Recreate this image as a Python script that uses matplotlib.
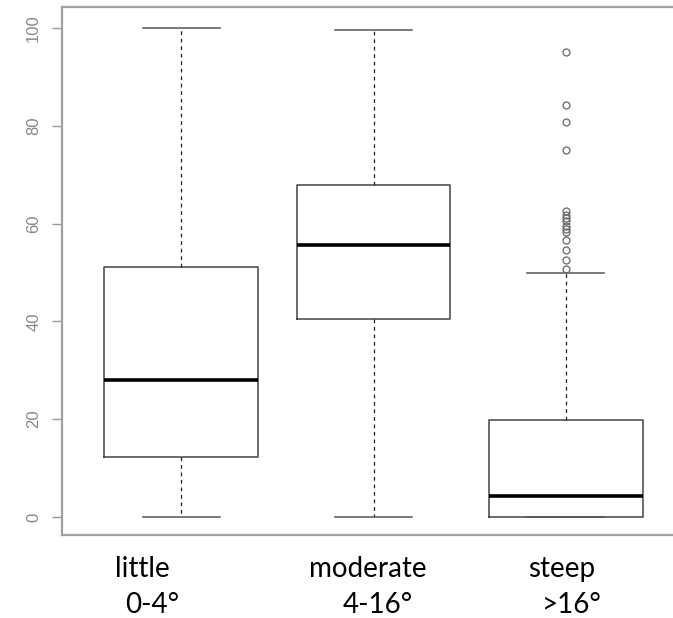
import numpy as np
import matplotlib
matplotlib.use("Agg")
from matplotlib import pyplot as plt
from matplotlib import transforms

# valores
grupos = ["little", "moderate", "steep"]
faixas = ["0-4°", "4-16°", ">16°"]
minimo = [0.0, 0.0, 0.0]
q1 = [12.3, 40.4, 0.0]
mediana = [28.0, 55.6, 4.2]
q3 = [51.2, 67.8, 19.8]
maximo = [100.0, 99.5, 49.8]
outliers = [[], [],
            [95.0, 84.3, 80.8, 75.0, 62.5, 61.8, 61.2, 60.5, 59.5,
             58.8, 58.2, 56.6, 54.6, 52.6, 50.7]]
yticks = [0, 20, 40, 60, 80, 100]

stats = []
for i in range(len(grupos)):
    stats.append({"whislo": minimo[i], "q1": q1[i], "med": mediana[i],
                  "q3": q3[i], "whishi": maximo[i], "fliers": outliers[i]})

fig = plt.figure(figsize=(6.73, 6.18), dpi=100)
# eixo estilo R, lado direito fica fora da figura
ax = fig.add_axes([62/673, 1-535/618, 623/673, 528/618])

ax.bxp(stats, positions=[1, 2, 3], widths=0.8,
       boxprops=dict(color="#444444", linewidth=1.1),
       medianprops=dict(color="black", linewidth=2.6),
       whiskerprops=dict(color="#222222", linewidth=0.9, linestyle=(0, (3, 3))),
       capprops=dict(color="#555555", linewidth=1.1),
       flierprops=dict(marker="o", markerfacecolor="none", markeredgecolor="#666666",
                       markersize=5, markeredgewidth=0.9),
       capwidths=0.4)

ax.set_xlim(0.38, 3.62)
ax.set_ylim(-3.7, 104.3)
ax.set_xticks([])
ax.set_yticks(yticks)
ax.set_yticklabels([str(t) for t in yticks], rotation=90, va="center",
                   fontsize=12, color="#888888", family="Liberation Sans")
ax.tick_params(axis="y", length=7, width=1, color="#999999", pad=8)
for s in ax.spines.values():
    s.set_color("#a0a0a0")
    s.set_linewidth(1.6)

# rotulos do eixo x (duas linhas), x em dados, y em fracao da figura
trans = transforms.blended_transform_factory(ax.transData, fig.transFigure)
desl_nome = [-0.20, -0.03, -0.02]
desl_faixa = [-0.15, 0.02, 0.03]
for i in range(len(grupos)):
    ax.text(i + 1 + desl_nome[i], 1 - 577/618, grupos[i], transform=trans,
            ha="center", va="baseline", fontsize=20, family="Lato", color="black")
    ax.text(i + 1 + desl_faixa[i], 1 - 613/618, faixas[i], transform=trans,
            ha="center", va="baseline", fontsize=20, family="Lato", color="black")

fig.savefig("out.png", dpi=100)
